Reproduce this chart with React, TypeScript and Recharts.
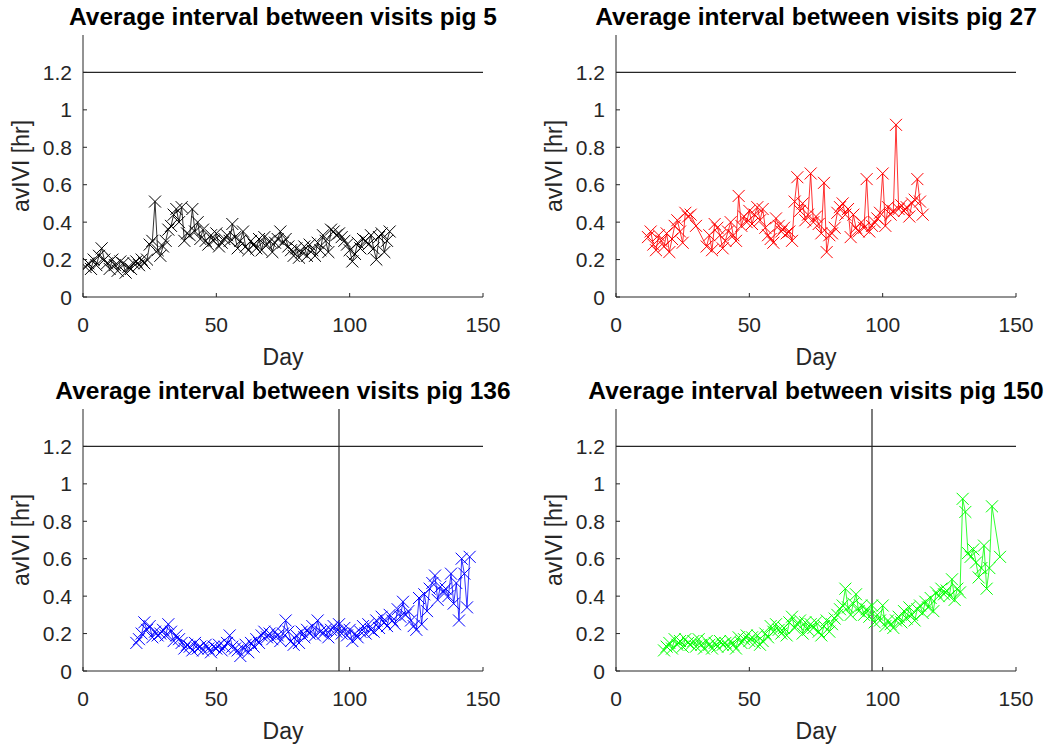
import React from 'react';
import { LineChart, Line, XAxis, YAxis, ReferenceLine } from 'recharts';

const xTicks = [0, 50, 100, 150];
const yTicks = [0, 0.2, 0.4, 0.6, 0.8, 1, 1.2];
const thresholdValue = 1.2;
const changeDay = 96;

const pig5Days = [1,2,3,4,5,6,7,8,9,10,11,12,13,14,15,16,17,18,19,20,21,22,23,24,25,26,27,28,29,30,31,32,33,34,35,36,37,38,39,40,41,42,43,44,45,46,47,48,49,50,51,52,53,54,55,56,57,58,59,60,61,62,63,64,65,66,67,68,69,70,71,72,73,74,75,76,77,78,79,80,81,82,83,84,85,86,87,88,89,90,91,92,93,94,95,96,97,98,99,100,101,102,103,104,105,106,107,108,109,110,111,112,113,114,115];
const pig5Values = [0.16,0.18,0.15,0.20,0.17,0.22,0.26,0.20,0.18,0.15,0.20,0.17,0.14,0.19,0.18,0.13,0.16,0.15,0.18,0.19,0.17,0.20,0.18,0.20,0.28,0.30,0.51,0.25,0.22,0.27,0.30,0.36,0.38,0.44,0.47,0.40,0.48,0.30,0.34,0.33,0.47,0.35,0.40,0.31,0.36,0.30,0.28,0.33,0.30,0.34,0.27,0.29,0.31,0.33,0.30,0.39,0.32,0.26,0.30,0.35,0.27,0.25,0.30,0.28,0.26,0.31,0.25,0.32,0.28,0.30,0.24,0.29,0.31,0.35,0.29,0.31,0.27,0.25,0.22,0.26,0.21,0.24,0.27,0.22,0.28,0.25,0.22,0.29,0.25,0.33,0.30,0.24,0.36,0.35,0.33,0.34,0.32,0.30,0.28,0.25,0.19,0.23,0.29,0.26,0.31,0.30,0.28,0.33,0.26,0.20,0.32,0.34,0.24,0.30,0.35];

const pig27Days = [12,13,14,15,16,17,18,19,20,21,22,23,24,25,26,27,28,30,34,35,36,37,38,39,40,41,42,43,44,45,46,47,48,49,50,51,52,53,54,55,56,57,58,59,60,61,62,63,64,65,66,67,68,69,70,71,72,73,74,75,76,77,78,79,80,81,82,83,84,85,86,87,88,89,90,91,92,93,94,95,96,97,98,99,100,101,102,103,104,105,106,107,108,109,110,111,112,113,114,115];
const pig27Values = [0.32,0.35,0.28,0.25,0.33,0.30,0.27,0.34,0.24,0.31,0.38,0.41,0.35,0.29,0.45,0.43,0.44,0.38,0.27,0.33,0.25,0.39,0.37,0.33,0.26,0.30,0.35,0.40,0.33,0.30,0.54,0.38,0.43,0.40,0.46,0.39,0.44,0.48,0.41,0.47,0.37,0.33,0.31,0.29,0.42,0.38,0.35,0.37,0.34,0.35,0.30,0.51,0.64,0.46,0.50,0.41,0.44,0.66,0.40,0.43,0.39,0.34,0.61,0.24,0.33,0.34,0.37,0.45,0.48,0.50,0.44,0.47,0.32,0.44,0.37,0.35,0.40,0.37,0.63,0.35,0.38,0.40,0.42,0.45,0.66,0.38,0.48,0.44,0.46,0.92,0.47,0.49,0.46,0.48,0.43,0.50,0.52,0.63,0.51,0.44];

const pig136Days = [20,21,22,23,24,25,26,27,28,29,30,31,32,33,34,35,36,37,38,39,40,41,42,43,44,45,46,47,48,49,50,51,52,53,54,55,56,57,58,59,60,61,62,63,64,65,66,67,68,69,70,71,72,73,74,75,76,77,78,79,80,81,82,83,84,85,86,87,88,89,90,91,92,93,94,95,96,97,98,99,100,101,102,103,104,105,106,107,108,109,110,111,112,113,114,115,116,117,118,119,120,121,122,123,124,125,126,127,128,129,130,131,132,133,134,135,136,137,138,139,140,141,142,143,144,145];
const pig136Values = [0.15,0.17,0.20,0.26,0.22,0.24,0.18,0.21,0.19,0.20,0.22,0.19,0.25,0.21,0.16,0.19,0.17,0.15,0.12,0.14,0.13,0.11,0.15,0.12,0.13,0.11,0.14,0.12,0.10,0.13,0.12,0.14,0.11,0.13,0.15,0.19,0.13,0.12,0.11,0.08,0.12,0.14,0.10,0.15,0.13,0.17,0.15,0.19,0.21,0.18,0.20,0.17,0.21,0.19,0.16,0.20,0.27,0.21,0.16,0.14,0.19,0.15,0.21,0.18,0.22,0.20,0.24,0.19,0.27,0.21,0.20,0.22,0.18,0.22,0.24,0.21,0.25,0.20,0.23,0.19,0.22,0.16,0.20,0.18,0.21,0.24,0.20,0.25,0.22,0.21,0.27,0.23,0.29,0.26,0.24,0.30,0.27,0.25,0.33,0.29,0.37,0.30,0.32,0.27,0.24,0.22,0.39,0.25,0.41,0.32,0.44,0.47,0.51,0.38,0.45,0.42,0.44,0.40,0.52,0.36,0.47,0.27,0.60,0.52,0.34,0.61];

const pig150Days = [18,19,20,21,22,23,24,25,26,27,28,29,30,31,32,33,34,35,36,37,38,39,40,41,42,43,44,45,46,47,48,49,50,51,52,53,54,55,56,57,58,59,60,61,62,63,64,65,66,67,68,69,70,71,72,73,74,75,76,77,78,79,80,81,82,83,84,85,86,87,88,89,90,91,92,93,94,95,96,97,98,99,100,101,102,103,104,105,106,107,108,109,110,111,112,113,114,115,116,117,118,119,120,121,122,123,124,125,126,127,128,129,130,131,132,133,134,135,136,137,138,139,140,141,144];
const pig150Values = [0.11,0.13,0.15,0.12,0.17,0.14,0.16,0.13,0.17,0.15,0.14,0.16,0.13,0.17,0.14,0.12,0.16,0.14,0.12,0.15,0.13,0.16,0.14,0.15,0.13,0.16,0.14,0.12,0.18,0.15,0.17,0.19,0.16,0.18,0.15,0.19,0.14,0.16,0.20,0.18,0.24,0.21,0.25,0.22,0.20,0.23,0.19,0.26,0.29,0.23,0.25,0.27,0.20,0.26,0.22,0.25,0.23,0.26,0.21,0.19,0.24,0.27,0.21,0.25,0.28,0.30,0.33,0.35,0.44,0.34,0.30,0.36,0.41,0.32,0.35,0.30,0.33,0.29,0.35,0.26,0.30,0.27,0.35,0.24,0.27,0.25,0.23,0.27,0.29,0.26,0.32,0.28,0.34,0.30,0.27,0.33,0.35,0.31,0.37,0.34,0.39,0.32,0.42,0.40,0.44,0.41,0.43,0.40,0.49,0.38,0.44,0.42,0.92,0.85,0.63,0.61,0.65,0.58,0.50,0.55,0.67,0.44,0.55,0.88,0.61];

const AXIS = '#262626';
const FONT = '"Liberation Sans", Arial, Helvetica, sans-serif';

type Row = { day: number; v: number };
const toRows = (days: number[], vals: number[]): Row[] => days.map((d, i) => ({ day: d, v: vals[i] }));

const makeCross = (color: string) => (props: any) => {
  const { cx, cy, index } = props;
  if (cx == null || cy == null) return <g key={`d${index}`} />;
  const s = 6;
  return (
    <path
      key={`d${index}`}
      d={`M${cx - s},${cy - s}L${cx + s},${cy + s}M${cx - s},${cy + s}L${cx + s},${cy - s}`}
      stroke={color}
      strokeWidth={1}
      fill="none"
    />
  );
};

const XTick = (props: any) => {
  const { x, y, payload } = props;
  return (
    <g>
      <line x1={x} x2={x} y1={y} y2={y - 4} stroke={AXIS} strokeWidth={1} />
      <text x={x} y={y + 35} textAnchor="middle" fill={AXIS} fontSize={21} fontFamily={FONT}>
        {String(payload.value)}
      </text>
    </g>
  );
};

const YTick = (props: any) => {
  const { x, y, payload } = props;
  return (
    <g>
      <line x1={x} x2={x + 4} y1={y} y2={y} stroke={AXIS} strokeWidth={1} />
      <text x={x - 11} y={y} dy="0.36em" textAnchor="end" fill={AXIS} fontSize={21} fontFamily={FONT}>
        {String(payload.value)}
      </text>
    </g>
  );
};

type PanelProps = {
  title: string;
  rows: Row[];
  color: string;
  left: number;
  top: number;
  height: number;
  plotLeft: number;
  showChangeDay: boolean;
};

const W = 530;
const PLOT_TOP = 35;
const PLOT_BOTTOM = 297;
const PLOT_W = 400;
const XAXIS_H = 60;
const YAXIS_W = 60;

const Panel = ({ title, rows, color, left, top, height, plotLeft, showChangeDay }: PanelProps) => {
  const margin = {
    top: PLOT_TOP,
    bottom: height - PLOT_BOTTOM - XAXIS_H,
    left: plotLeft - YAXIS_W,
    right: W - plotLeft - PLOT_W,
  };
  const cx = plotLeft + PLOT_W / 2;
  const cy = (PLOT_TOP + PLOT_BOTTOM) / 2;
  return (
    <div style={{ position: 'absolute', left, top, width: W, height }}>
      <LineChart width={W} height={height} data={rows} margin={margin}>
        <XAxis
          type="number"
          dataKey="day"
          domain={[0, 150]}
          ticks={xTicks}
          interval={0}
          allowDataOverflow
          height={XAXIS_H}
          tickSize={0}
          tickMargin={0}
          tickLine={false}
          axisLine={{ stroke: AXIS, strokeWidth: 1 }}
          tick={<XTick />}
        />
        <YAxis
          type="number"
          domain={[0, 1.4]}
          ticks={yTicks}
          interval={0}
          allowDataOverflow
          width={YAXIS_W}
          tickSize={0}
          tickMargin={0}
          tickLine={false}
          axisLine={{ stroke: AXIS, strokeWidth: 1 }}
          tick={<YTick />}
        />
        <ReferenceLine y={thresholdValue} stroke={AXIS} strokeWidth={1.2} ifOverflow="extendDomain" />
        {showChangeDay && <ReferenceLine x={changeDay} stroke={AXIS} strokeWidth={1.2} />}
        <Line
          type="linear"
          dataKey="v"
          stroke={color}
          strokeWidth={0.8}
          dot={makeCross(color)}
          activeDot={false}
          isAnimationActive={false}
        />
      </LineChart>
      <svg
        width={W}
        height={height}
        style={{ position: 'absolute', left: 0, top: 0, pointerEvents: 'none' }}
      >
        <text x={cx} y={25} textAnchor="middle" fontSize={24.5} fontWeight="bold" fontFamily={FONT} fill="#000">
          {title}
        </text>
        <text x={cx} y={365} textAnchor="middle" fontSize={23} fontFamily={FONT} fill={AXIS}>
          Day
        </text>
        <text
          x={plotLeft - 54}
          y={cy}
          textAnchor="middle"
          fontSize={23}
          fontFamily={FONT}
          fill={AXIS}
          transform={`rotate(-90 ${plotLeft - 54} ${cy})`}
        >
          avIVI [hr]
        </text>
      </svg>
    </div>
  );
};

export default function App() {
  return (
    <div style={{ position: 'absolute', left: 0, top: 0, width: 1060, height: 747, background: '#fff' }}>
      <Panel title="Average interval between visits pig 5" rows={toRows(pig5Days, pig5Values)} color="#000000" left={0} top={0} height={374} plotLeft={83} showChangeDay={false} />
      <Panel title="Average interval between visits pig 27" rows={toRows(pig27Days, pig27Values)} color="#ff0000" left={530} top={0} height={374} plotLeft={86} showChangeDay={false} />
      <Panel title="Average interval between visits pig 136" rows={toRows(pig136Days, pig136Values)} color="#0000ff" left={0} top={374} height={373} plotLeft={83} showChangeDay={true} />
      <Panel title="Average interval between visits pig 150" rows={toRows(pig150Days, pig150Values)} color="#00ff00" left={530} top={374} height={373} plotLeft={86} showChangeDay={true} />
    </div>
  );
}
